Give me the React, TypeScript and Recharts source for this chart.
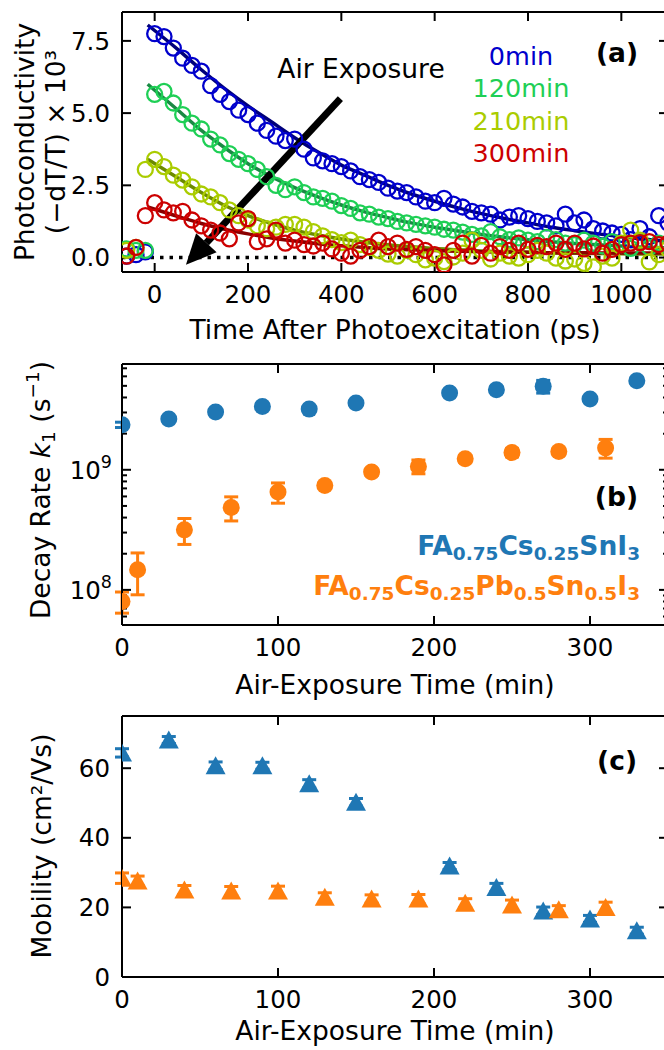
import React from 'react';
import {
  ComposedChart,
  Scatter,
  Line,
  XAxis,
  YAxis,
  ReferenceLine,
  ErrorBar,
  Label,
} from 'recharts';

const FONT = '"DejaVu Sans", "Liberation Sans", sans-serif';
const TICK_FONT = 24.5;
const TITLE_FONT = 26.5;
const PLOT_W = 546;

// ---------- (a) photoconductivity transients ----------
const delayPs = [
  -60, -40, -20, 0, 20, 40, 60, 80, 100, 120, 140, 160, 180,
  200, 220, 240, 260, 280, 300, 320, 340, 360, 380,
  400, 420, 440, 460, 480, 500, 520, 540, 560, 580,
  600, 620, 640, 660, 680, 700, 720, 740, 760, 780,
  800, 820, 840, 860, 880, 900, 920, 940, 960, 980,
  1000, 1020, 1040, 1060, 1080, 1100,
];

const signal0min = [
  0.05, 0.1, 0.2, 7.75, 7.65, 7.25, 6.9, 6.65, 6.45, 5.95, 5.65, 5.4, 5.1,
  4.95, 4.65, 4.4, 4.2, 4.05, 4.1, 3.75, 3.45, 3.35, 3.25,
  3.15, 3.0, 2.8, 2.7, 2.6, 2.4, 2.3, 2.25, 2.1, 1.95,
  1.9, 2.05, 1.85, 1.75, 1.6, 1.55, 1.5, 1.3, 1.4, 1.45,
  1.35, 1.25, 1.2, 1.1, 1.5, 1.2, 1.3, 1.0, 0.92, 0.85,
  0.8, 0.62, 1.0, 0.72, 1.45, 1.2,
];
const signal120min = [
  0.3, 0.25, 0.25, 5.65, 5.75, 5.35, 4.95, 4.65, 4.45, 4.1, 3.9, 3.6, 3.4,
  3.25, 3.05, 2.8, 2.5, 2.35, 2.45, 2.25, 2.1, 2.05, 1.95,
  1.8, 1.7, 1.55, 1.5, 1.4, 1.35, 1.25, 1.2, 1.15, 1.1,
  1.05, 0.98, 0.95, 0.88, 0.8, 0.75, 0.9, 0.72, 0.62, 0.68,
  0.6, 0.55, 0.7, 0.62, 0.5, 0.45, 0.6, 0.5, 0.4, 0.55,
  0.45, 0.32, 0.55, 0.35, 0.5, 0.4,
];
const signal210min = [
  0.25, 0.35, 3.05, 3.4, 3.15, 2.85, 2.68, 2.45, 2.2, 2.1, 1.9, 1.65, 1.45,
  1.3, 1.1, 1.0, 1.05, 1.15, 1.15, 1.05, 0.9, 0.75, 0.62,
  0.52, 0.6, 0.45, 0.35, 0.25, 0.12, 0.05, 0.25, 0.1, -0.08,
  -0.02, -0.14, 0.02, 0.15, 0.6, 0.25, -0.05, 0.15, 0.05, -0.02,
  0.1, 0.25, 0.15, -0.02, -0.12, -0.05, -0.2, -0.32, 0.05, -0.02,
  0.5, 0.95, 0.6, -0.15, 0.1, 0.3,
];
const signal300min = [
  0.05, 0.35, 1.45, 1.9, 1.65, 1.55, 1.6, 1.3, 1.1, 0.95, 0.85, 0.65, 1.2,
  1.35, 0.55, 0.65, 0.95, 0.5, 0.6, 0.45, 0.4, 0.5, 0.3,
  0.15, 0.05, 0.25, 0.38, 0.6, 0.38, 0.5, 0.28, 0.38, 0.25,
  0.1, -0.25, 0.25, 0.5, 0.05, 0.42, 0.15, 0.38, 0.25, 0.5,
  0.28, 0.42, 0.38, 0.5, 0.28, 0.5, 0.3, 0.4, 0.15, 0.28,
  0.45, 0.5, 0.52, 0.55, 0.45, 0.5,
];

const fitPs = [
  -15, 50, 100, 150, 200, 250, 300, 350, 400, 450, 500, 550,
  600, 650, 700, 750, 800, 850, 900, 950, 1000, 1050, 1100,
];
const fit0min = [
  8.05, 7.2, 6.5, 5.85, 5.25, 4.7, 4.15, 3.65, 3.2, 2.85, 2.5, 2.2,
  1.95, 1.72, 1.52, 1.35, 1.2, 1.05, 0.93, 0.82, 0.72, 0.63, 0.56,
];
const fit120min = [
  6.0, 5.1, 4.4, 3.8, 3.25, 2.8, 2.42, 2.1, 1.82, 1.58, 1.38, 1.2,
  1.05, 0.92, 0.8, 0.7, 0.62, 0.55, 0.49, 0.44, 0.4, 0.36, 0.33,
];
const fit210min = [
  3.4, 2.75, 2.25, 1.8, 1.45, 1.18, 0.95, 0.78, 0.64, 0.53, 0.44, 0.37,
  0.31, 0.27, 0.23, 0.2, 0.18, 0.16, 0.15, 0.14, 0.13, 0.12, 0.12,
];
const fit300min = [
  1.75, 1.42, 1.18, 0.98, 0.82, 0.68, 0.57, 0.48, 0.41, 0.35, 0.3, 0.27,
  0.24, 0.22, 0.2, 0.19, 0.18, 0.17, 0.17, 0.16, 0.16, 0.16, 0.16,
];

const exposureNames = ['0min', '120min', '210min', '300min'];
const ringColors = ['#0000cc', '#1ecf55', '#aacc00', '#cc0000'];
const fitColors = ['#00007a', '#1a8a44', '#6c8a00', '#8a0000'];
const timeDomain = [-70, 1100];
const signalDomain = [-0.5, 8.5];
const timeTicks = [0, 200, 400, 600, 800, 1000];
const signalTicks = [0, 2.5, 5, 7.5];

// ---------- (b) decay rate, (c) mobility ----------
const minutesSnI3 = [0, 30, 60, 90, 120, 150, 210, 240, 270, 300, 330];
const rateSnI3 = [2.37e9, 2.65e9, 3.03e9, 3.37e9, 3.2e9, 3.6e9, 4.36e9, 4.64e9, 4.95e9, 3.88e9, 5.52e9];
const rateErrSnI3 = [1.2e8, 1.3e8, 1.5e8, 1.6e8, 1.5e8, 1.8e8, 2.2e8, 2.4e8, 6e8, 2e8, 3e8];
const mobilitySnI3 = [64.4, 68.1, 60.7, 60.7, 55.5, 50.2, 31.9, 25.7, 19.0, 16.7, 13.3];
const mobilityErrSnI3 = [1.2, 1.0, 1.1, 1.0, 1.2, 1.1, 1.0, 1.2, 1.1, 1.0, 1.0];

const minutesPbSn = [0, 10, 40, 70, 100, 130, 160, 190, 220, 250, 280, 310];
const ratePbSn = [8.0e7, 1.47e8, 3.16e8, 4.85e8, 6.52e8, 7.4e8, 9.57e8, 1.066e9, 1.236e9, 1.39e9, 1.42e9, 1.52e9];
const rateErrPbSn = [1.6e7, 5.6e7, 7.7e7, 1.1e8, 1.25e8, 4e7, 6e7, 1.4e8, 8e7, 1.1e8, 9e7, 2.7e8];
const mobilityPbSn = [28.4, 27.6, 25.0, 24.7, 24.7, 22.9, 22.4, 22.4, 21.2, 20.7, 19.3, 20.0];
const mobilityErrPbSn = [1.5, 1.4, 1.3, 1.3, 1.4, 1.3, 1.2, 1.3, 1.3, 1.4, 1.2, 1.5];

const minuteDomain = [0, 350];
const minuteTicks = [0, 100, 200, 300];
const rateDomain = [5.1e7, 7.6e9];
const rateTicks = [1e8, 1e9];
const rateMinorTicks = [
  6e7, 7e7, 8e7, 9e7, 2e8, 3e8, 4e8, 5e8, 6e8, 7e8, 8e8, 9e8,
  2e9, 3e9, 4e9, 5e9, 6e9, 7e9,
];
const mobilityDomain = [0, 75];
const mobilityTicks = [0, 20, 40, 60];

const BLUE = '#1f77b4';
const ORANGE = '#ff7f0e';

const formulaSnI3: [string, boolean][] = [
  ['FA', false], ['0.75', true], ['Cs', false], ['0.25', true], ['SnI', false], ['3', true],
];
const formulaPbSn: [string, boolean][] = [
  ['FA', false], ['0.75', true], ['Cs', false], ['0.25', true], ['Pb', false], ['0.5', true],
  ['Sn', false], ['0.5', true], ['I', false], ['3', true],
];

// ---------- shared bits ----------
const spine = { stroke: '#000', strokeWidth: 2 };
const tickText = { fill: '#000', fontSize: TICK_FONT };

const transientPoints = (ys: number[]) => delayPs.map((t, i) => ({ t, v: ys[i] }));
const fitPoints = (ys: number[]) => fitPs.map((t, i) => ({ t, v: ys[i] }));
const exposurePoints = (mins: number[], ys: number[], errs: number[]) =>
  mins.map((min, i) => ({ min, k: ys[i], err: errs[i] }));

const transients = [
  { data: transientPoints(signal0min), fit: fitPoints(fit0min) },
  { data: transientPoints(signal120min), fit: fitPoints(fit120min) },
  { data: transientPoints(signal210min), fit: fitPoints(fit210min) },
  { data: transientPoints(signal300min), fit: fitPoints(fit300min) },
];

// closed frame with inward ticks on all four sides, drawn as reference segments
function frame(
  id: string,
  xd: number[],
  yd: number[],
  xTicks: number[],
  yTicks: number[],
  plotH: number,
  opts: { log?: boolean; len?: number; spines?: boolean; xSide?: boolean } = {},
) {
  const { log = false, len = 9, spines = true, xSide = true } = opts;
  const dx = (len * (xd[1] - xd[0])) / PLOT_W;
  const up = (v: number) =>
    log ? v * Math.pow(yd[1] / yd[0], len / plotH) : v + (len * (yd[1] - yd[0])) / plotH;
  const down = (v: number) =>
    log ? v / Math.pow(yd[1] / yd[0], len / plotH) : v - (len * (yd[1] - yd[0])) / plotH;
  const line = { stroke: '#000', strokeWidth: 2 };
  const out: React.ReactElement[] = [];
  if (spines) {
    out.push(<ReferenceLine key={`${id}top`} y={yd[1]} {...line} />);
    out.push(<ReferenceLine key={`${id}right`} x={xd[1]} {...line} />);
  }
  if (xSide) {
    xTicks.forEach((t) => {
      out.push(<ReferenceLine key={`${id}b${t}`} segment={[{ x: t, y: yd[0] }, { x: t, y: up(yd[0]) }]} {...line} />);
      out.push(<ReferenceLine key={`${id}t${t}`} segment={[{ x: t, y: yd[1] }, { x: t, y: down(yd[1]) }]} {...line} />);
    });
  }
  yTicks.forEach((t) => {
    out.push(<ReferenceLine key={`${id}l${t}`} segment={[{ x: xd[0], y: t }, { x: xd[0] + dx, y: t }]} {...line} />);
    out.push(<ReferenceLine key={`${id}r${t}`} segment={[{ x: xd[1], y: t }, { x: xd[1] - dx, y: t }]} {...line} />);
  });
  return out;
}

const ring = (color: string) => (p: any) => (
  <circle cx={p.cx} cy={p.cy} r={7.5} fill="none" stroke={color} strokeWidth={2.3} />
);
const disc = (color: string) => (p: any) => <circle cx={p.cx} cy={p.cy} r={8.5} fill={color} />;
const triangle = (color: string) => (p: any) => (
  <polygon
    points={`${p.cx},${p.cy - 9.5} ${p.cx - 10},${p.cy + 8.5} ${p.cx + 10},${p.cy + 8.5}`}
    fill={color}
  />
);

function ArrowShape(p: any) {
  const { x1, y1, x2, y2 } = p;
  const ang = Math.atan2(y2 - y1, x2 - x1);
  const len = 30;
  const half = 14;
  const bx = x2 - len * Math.cos(ang);
  const by = y2 - len * Math.sin(ang);
  const nx = -Math.sin(ang) * half;
  const ny = Math.cos(ang) * half;
  return (
    <g>
      <line x1={x1} y1={y1} x2={bx} y2={by} stroke="#000" strokeWidth={7} />
      <polygon points={`${x2},${y2} ${bx + nx},${by + ny} ${bx - nx},${by - ny}`} fill="#000" />
    </g>
  );
}

function PowerTick(p: any) {
  const exp = Math.round(Math.log10(p.payload.value));
  return (
    <text x={p.x} y={p.y + 9} textAnchor="end" fill="#000" fontSize={TICK_FONT}>
      10
      <tspan dy={-11} fontSize={17.5}>{exp}</tspan>
    </text>
  );
}

function Formula({ parts, x, y, color }: { parts: [string, boolean][]; x: number; y: number; color: string }) {
  return (
    <text x={x} y={y} textAnchor="end" fill={color} fontSize={TITLE_FONT} fontWeight="bold">
      {parts.map(([s, sub], i) => {
        const prevSub = i > 0 ? parts[i - 1][1] : false;
        const dy = sub === prevSub ? 0 : sub ? 5 : -5;
        return (
          <tspan key={i} dy={dy} fontSize={sub ? 18.5 : TITLE_FONT}>
            {s}
          </tspan>
        );
      })}
    </text>
  );
}

const VerticalTitle = ({ x, cy, children }: { x: number; cy: number; children: React.ReactNode }) => (
  <text x={x} y={cy} transform={`rotate(-90 ${x} ${cy})`} textAnchor="middle" fill="#000" fontSize={TITLE_FONT}>
    {children}
  </text>
);

function TransientPanel() {
  return (
    <ComposedChart width={680} height={350} margin={{ top: 12, right: 12, bottom: 0, left: 0 }}>
      <XAxis dataKey="t" type="number" domain={timeDomain} ticks={timeTicks} allowDataOverflow
        height={78} interval={0} tickLine={false} tickSize={0} tickMargin={13.5} axisLine={spine} tick={tickText}>
        <Label value="Time After Photoexcitation (ps)" position="insideBottom" offset={11}
          fill="#000" fontSize={TITLE_FONT} />
      </XAxis>
      <YAxis dataKey="v" type="number" domain={signalDomain} ticks={signalTicks} allowDataOverflow
        width={122} interval={0} tickLine={false} tickSize={0} tickMargin={12} axisLine={spine}
        tick={tickText} tickFormatter={(v: number) => v.toFixed(1)}>
        <Label
          content={() => (
            <g>
              <VerticalTitle x={34} cy={142}>Photoconductivity</VerticalTitle>
              <VerticalTitle x={65} cy={142}>(−dT/T) × 10³</VerticalTitle>
            </g>
          )}
        />
      </YAxis>

      {transients.map((s, i) => [
        <Scatter key={`pts${i}`} data={s.data} dataKey="v" shape={ring(ringColors[i])} isAnimationActive={false} />,
        <Line key={`fit${i}`} data={s.fit} dataKey="v" type="monotone" stroke={fitColors[i]} strokeWidth={3.5}
          dot={false} activeDot={false} isAnimationActive={false} />,
      ])}

      <ReferenceLine y={0} stroke="#000" strokeWidth={3.5} strokeDasharray="3.5 6" />
      <ReferenceLine segment={[{ x: 398, y: 5.5 }, { x: 67, y: -0.25 }]} shape={ArrowShape} />
      {frame('a', timeDomain, signalDomain, timeTicks, signalTicks, 260)}

      <text x={361} y={78} textAnchor="middle" fill="#000" fontSize={TITLE_FONT}>Air Exposure</text>
      {exposureNames.map((name, i) => (
        <text key={name} x={521} y={65 + i * 32.3} textAnchor="middle" fill={ringColors[i]} fontSize={25.5}>
          {name}
        </text>
      ))}
      <text x={638} y={62} textAnchor="end" fill="#000" fontSize={TITLE_FONT} fontWeight="bold">(a)</text>
    </ComposedChart>
  );
}

function RatePanel() {
  const snI3 = exposurePoints(minutesSnI3, rateSnI3, rateErrSnI3);
  const pbSn = exposurePoints(minutesPbSn, ratePbSn, rateErrPbSn);
  return (
    <ComposedChart width={680} height={360} margin={{ top: 14, right: 12, bottom: 0, left: 0 }}>
      <XAxis dataKey="min" type="number" domain={minuteDomain} ticks={minuteTicks} allowDataOverflow
        height={85} interval={0} tickLine={false} tickSize={0} tickMargin={13.5} axisLine={spine} tick={tickText}>
        <Label value="Air-Exposure Time (min)" position="insideBottom" offset={16} fill="#000" fontSize={TITLE_FONT} />
      </XAxis>
      <YAxis dataKey="k" type="number" scale="log" domain={rateDomain} ticks={rateTicks} allowDataOverflow
        width={122} interval={0} tickLine={false} tickSize={0} tickMargin={10} axisLine={spine} tick={PowerTick}>
        <Label
          content={() => (
            <VerticalTitle x={50} cy={140}>
              Decay Rate{' '}
              <tspan fontStyle="italic">k</tspan>
              <tspan fontSize={18.5} dy={5}>1</tspan>
              <tspan dy={-5}> (s</tspan>
              <tspan fontSize={18.5} dy={-11}>−1</tspan>
              <tspan dy={11}>)</tspan>
            </VerticalTitle>
          )}
        />
      </YAxis>

      <Scatter data={snI3} dataKey="k" shape={disc(BLUE)} isAnimationActive={false}>
        <ErrorBar dataKey="err" direction="y" width={7} strokeWidth={3} stroke={BLUE} isAnimationActive={false} />
      </Scatter>
      <Scatter data={pbSn} dataKey="k" shape={disc(ORANGE)} isAnimationActive={false}>
        <ErrorBar dataKey="err" direction="y" width={7} strokeWidth={3} stroke={ORANGE} isAnimationActive={false} />
      </Scatter>

      {frame('b', minuteDomain, rateDomain, minuteTicks, rateTicks, 261, { log: true })}
      {frame('bm', minuteDomain, rateDomain, [], rateMinorTicks, 261, { log: true, len: 5, spines: false, xSide: false })}

      <text x={638} y={156} textAnchor="end" fill="#000" fontSize={TITLE_FONT} fontWeight="bold">(b)</text>
      <Formula parts={formulaSnI3} x={640} y={205} color={BLUE} />
      <Formula parts={formulaPbSn} x={640} y={245} color={ORANGE} />
    </ComposedChart>
  );
}

function MobilityPanel() {
  const snI3 = exposurePoints(minutesSnI3, mobilitySnI3, mobilityErrSnI3);
  const pbSn = exposurePoints(minutesPbSn, mobilityPbSn, mobilityErrPbSn);
  return (
    <ComposedChart width={680} height={340} margin={{ top: 6, right: 12, bottom: 0, left: 0 }}>
      <XAxis dataKey="min" type="number" domain={minuteDomain} ticks={minuteTicks} allowDataOverflow
        height={73} interval={0} tickLine={false} tickSize={0} tickMargin={13.5} axisLine={spine} tick={tickText}>
        <Label value="Air-Exposure Time (min)" position="insideBottom" offset={10} fill="#000" fontSize={TITLE_FONT} />
      </XAxis>
      <YAxis dataKey="k" type="number" domain={mobilityDomain} ticks={mobilityTicks} allowDataOverflow
        width={122} interval={0} tickLine={false} tickSize={0} tickMargin={12} axisLine={spine} tick={tickText}>
        <Label content={() => <VerticalTitle x={51} cy={136}>Mobility (cm²/Vs)</VerticalTitle>} />
      </YAxis>

      <Scatter data={snI3} dataKey="k" shape={triangle(BLUE)} isAnimationActive={false}>
        <ErrorBar dataKey="err" direction="y" width={7} strokeWidth={3} stroke={BLUE} isAnimationActive={false} />
      </Scatter>
      <Scatter data={pbSn} dataKey="k" shape={triangle(ORANGE)} isAnimationActive={false}>
        <ErrorBar dataKey="err" direction="y" width={7} strokeWidth={3} stroke={ORANGE} isAnimationActive={false} />
      </Scatter>

      {frame('c', minuteDomain, mobilityDomain, minuteTicks, mobilityTicks, 261)}

      <text x={637} y={60} textAnchor="end" fill="#000" fontSize={TITLE_FONT} fontWeight="bold">(c)</text>
    </ComposedChart>
  );
}

export default function App() {
  return (
    <div
      style={{
        position: 'absolute',
        left: 0,
        top: 0,
        width: 664,
        height: 1050,
        overflow: 'hidden',
        background: '#fff',
        fontFamily: FONT,
      }}
    >
      <div style={{ position: 'absolute', left: 0, top: 0 }}>
        <TransientPanel />
      </div>
      <div style={{ position: 'absolute', left: 0, top: 350 }}>
        <RatePanel />
      </div>
      <div style={{ position: 'absolute', left: 0, top: 710 }}>
        <MobilityPanel />
      </div>
    </div>
  );
}
